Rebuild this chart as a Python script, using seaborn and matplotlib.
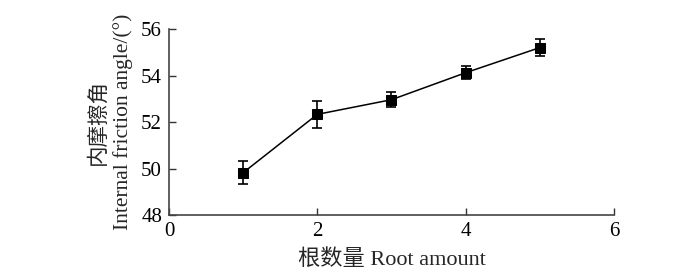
import numpy as np
import pandas as pd
import matplotlib
matplotlib.use('Agg')
import matplotlib.pyplot as plt
import seaborn as sns

# Data
root_amount = [1, 2, 3, 4, 5]
friction_angle = [49.82, 52.33, 52.96, 54.12, 55.20]
friction_err = [0.50, 0.58, 0.33, 0.28, 0.38]
x_ticks = [0, 2, 4, 6]
y_ticks = [48, 50, 52, 54, 56]

sns.set_style('ticks')
plt.rcParams['font.family'] = ['Liberation Serif', 'Noto Sans CJK SC']
plt.rcParams['axes.unicode_minus'] = False

df = pd.DataFrame({'x': root_amount, 'y': friction_angle, 'err': friction_err})

fig = plt.figure(figsize=(7, 2.74), dpi=100)
ax = fig.add_axes([0.2414, 0.2153, 0.877 - 0.2414, 0.894 - 0.2153])

ax.errorbar(df['x'], df['y'], yerr=df['err'], fmt='none', ecolor='black',
            elinewidth=1.2, capsize=3.5, capthick=1.2, zorder=2)
sns.lineplot(data=df, x='x', y='y', ax=ax, color='black', lw=1.1,
             marker='s', markersize=6.5, markeredgecolor='black',
             markerfacecolor='black', zorder=3)

ax.set_xlim(0, 6)
ax.set_ylim(48, 56)
ax.set_xticks(x_ticks)
ax.set_yticks(y_ticks)
ax.tick_params(direction='in', length=5, width=1, colors='#333333',
               labelsize=15, labelcolor='black', pad=5)
for s in ['top', 'right']:
    ax.spines[s].set_visible(False)
for s in ['left', 'bottom']:
    ax.spines[s].set_color('#444444')
    ax.spines[s].set_linewidth(1.2)

ax.set_xlabel('根数量 Root amount', fontsize=16, labelpad=6)
ax.set_ylabel('内摩擦角\nInternal friction angle/(°)', fontsize=15.5,
              labelpad=6, linespacing=1.3)

plt.savefig('out.png', dpi=100)
plt.close()
